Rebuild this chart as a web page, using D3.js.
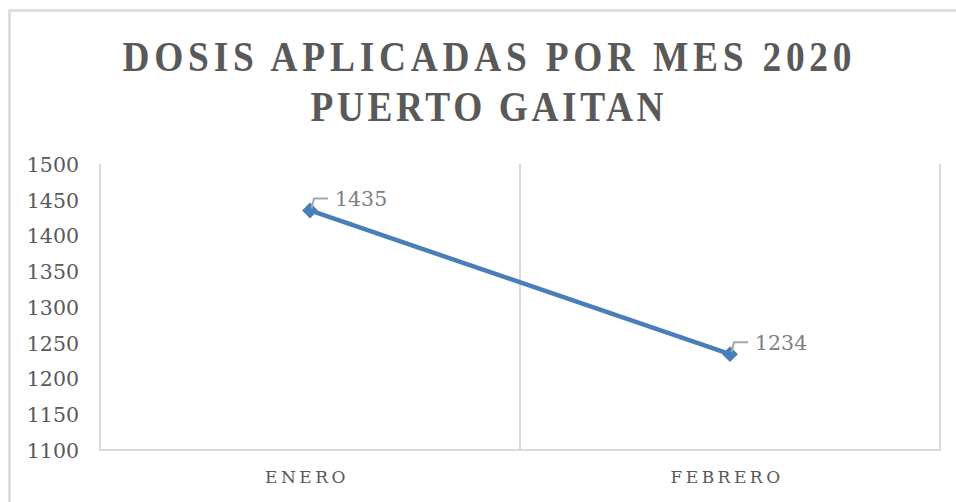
<!DOCTYPE html>
<html>
<head>
<meta charset="utf-8">
<script src="https://cdn.jsdelivr.net/npm/d3@7"></script>
<style>
    body { margin: 0; background: #fff; }
    svg { display: block; }
    .tick text { font-family: "DejaVu Serif", serif; font-size: 20.5px; fill: #595959; }
</style>
</head>
<body>
<svg id="chart" width="956" height="502"></svg>
<script>
// chart values
var months = ['ENERO', 'FEBRERO'];
var doses = [1435, 1234];
var yTicks = [1100, 1150, 1200, 1250, 1300, 1350, 1400, 1450, 1500];
var titleLines = ['DOSIS APLICADAS POR MES 2020', 'PUERTO GAITAN'];

var svg = d3.select('#chart');
var plot = {left: 100, right: 940, top: 164, bottom: 450};
var grey = '#d9d9d9';

// outer chart frame (runs off the right and bottom edge)
svg.append('rect')
    .attr('x', 9.5).attr('y', 10.5)
    .attr('width', 1000).attr('height', 600)
    .attr('fill', 'none')
    .attr('stroke', grey)
    .attr('stroke-width', 2.5);

// title: narrow bold serif, spread out to the reference width
var titleWidths = [729, 353];
var squeeze = 0.89;
svg.selectAll('.title')
    .data(titleLines)
  .enter().append('text')
    .attr('class', 'title')
    .attr('transform', function(d, i) {
        return 'translate(' + (487 - titleWidths[i] / 2) + ',' + (71 + i * 50) + ')scale(' + squeeze + ',1)';
    })
    .attr('textLength', function(d, i) { return titleWidths[i] / squeeze; })
    .attr('lengthAdjust', 'spacing')
    .style('font-family', '"Liberation Serif", serif')
    .style('font-weight', 'bold')
    .style('font-size', '42px')
    .style('fill', '#595959')
    .text(function(d) { return d; });

var x = d3.scaleBand().domain(months).range([plot.left, plot.right]).padding(0);
var y = d3.scaleLinear().domain([1100, 1500]).range([plot.bottom, plot.top]);

// category separators + frame lines
var edges = [plot.left].concat(months.map(function(m) { return x(m) + x.bandwidth(); }));
svg.selectAll('.sep')
    .data(edges)
  .enter().append('line')
    .attr('class', 'sep')
    .attr('x1', function(d) { return d; })
    .attr('x2', function(d) { return d; })
    .attr('y1', plot.top)
    .attr('y2', plot.bottom)
    .attr('stroke', grey)
    .attr('stroke-width', 2);

svg.append('line')
    .attr('x1', plot.left - 1).attr('x2', plot.right + 1)
    .attr('y1', plot.bottom).attr('y2', plot.bottom)
    .attr('stroke', grey)
    .attr('stroke-width', 2);

// y axis labels
var yAxis = svg.append('g')
    .attr('transform', 'translate(' + plot.left + ',0)')
    .call(d3.axisLeft(y).tickValues(yTicks).tickFormat(d3.format('d')).tickSize(0).tickPadding(21));
yAxis.select('.domain').remove();
yAxis.selectAll('.tick text').attr('dy', '0.36em');

// category labels
svg.selectAll('.cat')
    .data(months)
  .enter().append('text')
    .attr('class', 'cat')
    .attr('x', function(d) { return x(d) + x.bandwidth() / 2 - 3; })
    .attr('y', 483)
    .attr('text-anchor', 'middle')
    .style('font-family', '"DejaVu Serif", serif')
    .style('font-size', '17px')
    .style('letter-spacing', '3.5px')
    .style('fill', '#595959')
    .text(function(d) { return d; });

var cx = function(d, i) { return x(months[i]) + x.bandwidth() / 2; };
var cy = function(d) { return y(d); };

// series line
svg.append('path')
    .datum(doses)
    .attr('d', d3.line().x(cx).y(cy))
    .attr('fill', 'none')
    .attr('stroke', '#4a7ebb')
    .attr('stroke-width', 4.5)
    .attr('stroke-linejoin', 'round');

// diamond markers
svg.selectAll('.marker')
    .data(doses)
  .enter().append('path')
    .attr('class', 'marker')
    .attr('d', d3.symbol().type(d3.symbolSquare).size(125))
    .attr('transform', function(d, i) {
        return 'translate(' + cx(d, i) + ',' + cy(d) + ')rotate(45)';
    })
    .attr('fill', '#4a7ebb');

// data label callouts
var lift = 12;
svg.selectAll('.leader')
    .data(doses)
  .enter().append('path')
    .attr('class', 'leader')
    .attr('d', function(d, i) {
        var px = cx(d, i), py = cy(d);
        return 'M' + (px + 1.5) + ',' + (py - 2) +
               'L' + (px + 4) + ',' + (py - lift) +
               'L' + (px + 18) + ',' + (py - lift);
    })
    .attr('fill', 'none')
    .attr('stroke', '#a6a6a6')
    .attr('stroke-width', 2);

svg.selectAll('.dlabel')
    .data(doses)
  .enter().append('text')
    .attr('class', 'dlabel')
    .attr('x', function(d, i) { return cx(d, i) + 25; })
    .attr('y', function(d) { return cy(d) - lift; })
    .attr('dy', '0.36em')
    .style('font-family', '"DejaVu Serif", serif')
    .style('font-size', '20.5px')
    .style('fill', '#808080')
    .text(function(d) { return d; });
</script>
</body>
</html>
